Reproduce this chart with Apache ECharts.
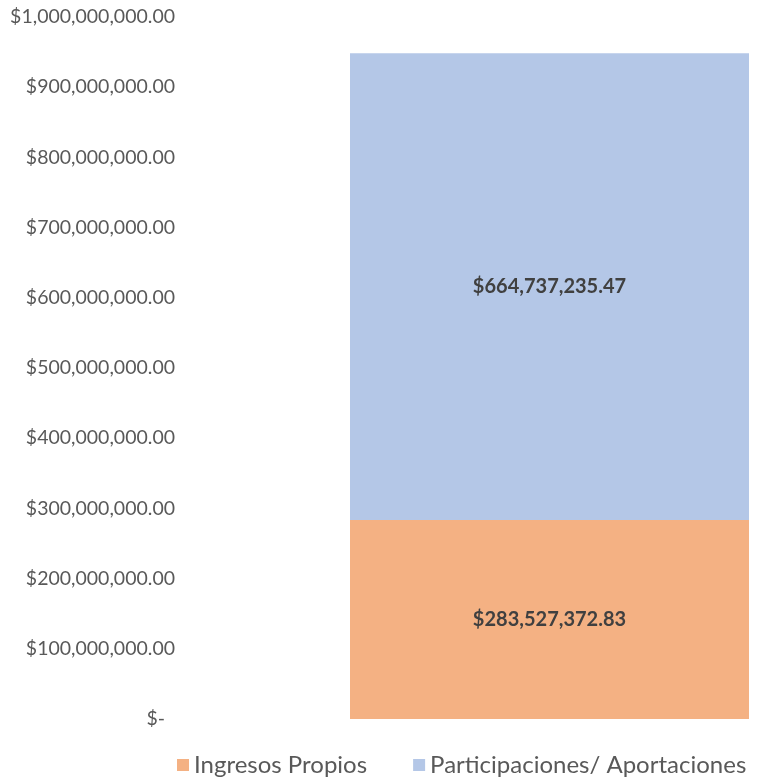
<!DOCTYPE html>
<html>
<head>
<meta charset="utf-8">
<script src="https://cdn.jsdelivr.net/npm/echarts@6/dist/echarts.min.js"></script>
<style>
  html, body { margin: 0; padding: 0; background: #fff; }
  #chart { width: 759px; height: 784px; }
</style>
</head>
<body>
<div id="chart"></div>
<script>
var categories = ['Total'];
var seriesNames = ['Ingresos Propios', 'Participaciones/ Aportaciones'];
var ingresosPropios = [283527372.83];
var participaciones = [664737235.47];
var yTicks = [0, 100000000, 200000000, 300000000, 400000000, 500000000,
              600000000, 700000000, 800000000, 900000000, 1000000000];

function money(v) {
  return '$' + v.toLocaleString('en-US', { minimumFractionDigits: 2, maximumFractionDigits: 2 });
}

var dom = document.getElementById('chart');
var myChart = echarts.init(dom, null, { renderer: 'canvas' });

var option = {
  animation: false,
  textStyle: { fontFamily: 'Lato, sans-serif' },
  grid: { left: 350, right: 10, top: 17, bottom: 65 },
  legend: {
    bottom: 2,
    left: 172,
    itemWidth: 12,
    itemHeight: 12,
    itemGap: 46,
    icon: 'rect',
    textStyle: { fontSize: 24, color: '#595959', fontFamily: 'Lato, sans-serif' },
    data: seriesNames
  },
  xAxis: {
    type: 'category',
    data: categories,
    show: false
  },
  yAxis: {
    type: 'value',
    min: yTicks[0],
    max: yTicks[yTicks.length - 1],
    interval: 100000000,
    splitLine: { show: false },
    axisLine: { show: false },
    axisTick: { show: false },
    axisLabel: {
      margin: 175,
      fontSize: 19.5,
      color: '#595959',
      formatter: function (v) {
        if (v === 0) return '{z|$-}';
        return money(v);
      },
      rich: {
        z: { fontSize: 19.5, color: '#595959', padding: [0, 10, 0, 0] }
      }
    }
  },
  series: [
    {
      name: seriesNames[0],
      type: 'bar',
      stack: 'total',
      barWidth: '100%',
      itemStyle: { color: '#F4B183' },
      label: {
        show: true,
        position: 'inside',
        fontSize: 20,
        fontWeight: 'bold',
        color: '#404040',
        formatter: function (p) { return money(p.value); }
      },
      data: ingresosPropios
    },
    {
      name: seriesNames[1],
      type: 'bar',
      stack: 'total',
      barWidth: '100%',
      itemStyle: { color: '#B4C7E7' },
      label: {
        show: true,
        position: 'inside',
        fontSize: 20,
        fontWeight: 'bold',
        color: '#404040',
        formatter: function (p) { return money(p.value); }
      },
      data: participaciones
    }
  ]
};

myChart.setOption(option);
window.addEventListener('resize', myChart.resize);
</script>
</body>
</html>
